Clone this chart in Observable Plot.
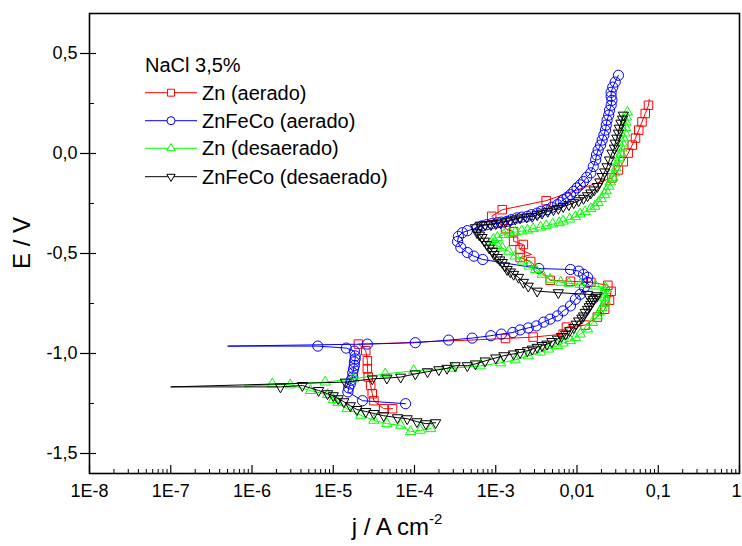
<!DOCTYPE html>
<html><head><meta charset="utf-8">
<script src="https://cdn.jsdelivr.net/npm/d3@7"></script>
<script src="https://cdn.jsdelivr.net/npm/@observablehq/plot@0.6"></script>
<style>
body{margin:0;background:#fff;}
#chart{position:relative;width:742px;height:546px;}
#chart svg{font-family:"Liberation Sans",Arial,sans-serif;}
</style></head><body><div id="chart"></div>
<script>
// ---- data: log10(i / A cm^-2) and E / V ----
const seriesNames = ["Zn (aerado)", "ZnFeCo (aerado)", "Zn (desaerado)", "ZnFeCo (desaerado)"];
const seriesColors = ["#ff0000", "#0000ff", "#00ff00", "#000000"];
const legendTitle = "NaCl 3,5%";

const znAerLogI = [-4.27,-4.38,-4.50,-4.52,-4.54,-4.57,-4.58,-4.58,-4.60,-4.69,
 -4.23,-3.80,-3.31,-2.88,-2.54,-2.17,-2.13,-1.90,-1.75,-1.66,
 -1.60,-1.58,-1.62,-1.83,-2.08,-2.33,-2.57,-2.70,-2.56,-2.70,
 -2.66,-2.78,-2.78,-2.88,-3.05,-2.92,-2.38,-1.57,-1.49,-1.43,
 -1.37,-1.32,-1.28,-1.24,-1.20,-1.16,-1.12,-1.11];
const znAerE = [-1.276,-1.276,-1.236,-1.201,-1.160,-1.117,-1.077,-1.036,-0.986,-0.953,
 -0.948,-0.940,-0.933,-0.925,-0.918,-0.903,-0.868,-0.858,-0.818,-0.779,
 -0.734,-0.689,-0.659,-0.644,-0.639,-0.634,-0.540,-0.520,-0.505,-0.480,
 -0.455,-0.439,-0.391,-0.376,-0.314,-0.281,-0.236,-0.122,-0.082,-0.041,
 0.002,0.042,0.077,0.117,0.158,0.200,0.241,0.271];
const znAerNoSymbol = [10, 11, 12, 28, 47];

const znfecoAerLogI = [-4.11,-4.64,-4.82,-4.81,-4.79,-4.78,-4.76,-4.76,-4.75,-4.74,
 -4.74,-4.73,-4.73,-4.74,-4.84,-5.19,-6.30,-4.58,
 -3.99,-3.58,-3.29,-3.06,-2.93,-2.79,-2.70,-2.60,-2.50,-2.41,
 -2.33,-2.24,-2.17,-2.08,-2.02,-1.96,-1.91,-1.87,-1.87,-1.92,
 -1.98,-2.08,-2.47,-3.16,-3.27,-3.35,-3.43,-3.47,-3.46,-3.41,
 -3.35,-3.23,-3.17,-3.11,-3.05,-2.98,-2.93,-2.86,-2.81,-2.74,
 -2.68,-2.61,-2.56,-2.49,-2.44,-2.37,-2.31,-2.24,-2.20,-2.17,
 -2.12,-2.08,-2.04,-2.00,-1.96,-1.92,-1.88,-1.83,-1.80,-1.77,
 -1.76,-1.74,-1.71,-1.69,-1.67,-1.65,-1.64,-1.63,-1.61,-1.60,
 -1.58,-1.57,-1.58,-1.58,-1.56,-1.53,-1.49];
const znfecoAerE = [-1.251,-1.236,-1.192,-1.172,-1.152,-1.134,-1.117,-1.097,-1.077,-1.060,
 -1.042,-1.027,-1.012,-0.988,-0.973,-0.963,-0.963,-0.953,
 -0.946,-0.933,-0.923,-0.911,-0.903,-0.895,-0.882,-0.872,-0.862,-0.843,
 -0.828,-0.812,-0.787,-0.762,-0.729,-0.704,-0.669,-0.644,-0.619,-0.604,
 -0.588,-0.580,-0.575,-0.530,-0.513,-0.495,-0.470,-0.440,-0.415,-0.396,
 -0.386,-0.372,-0.362,-0.356,-0.351,-0.346,-0.343,-0.339,-0.331,-0.322,
 -0.318,-0.314,-0.306,-0.298,-0.289,-0.281,-0.269,-0.256,-0.244,-0.231,
 -0.219,-0.206,-0.189,-0.172,-0.157,-0.140,-0.119,-0.097,-0.065,-0.032,
 -0.007,0.017,0.042,0.067,0.092,0.117,0.142,0.167,0.192,0.216,
 0.241,0.266,0.286,0.306,0.332,0.357,0.391];
const znfecoAerNoSymbol = [16];

const znDesLogI = [-3.80,-3.93,-4.05,-4.17,-4.34,-4.50,-4.66,-4.83,-4.94,-5.00,
 -5.07,-5.28,-5.53,-5.75,-6.10,-5.10,-4.75,-4.36,-4.01,-3.54,
 -3.19,-2.94,-2.76,-2.60,-2.45,-2.35,-2.24,-2.17,-2.08,-2.02,
 -1.96,-1.87,-1.81,-1.75,-1.72,-1.69,-1.66,-1.65,-1.66,-1.67,
 -1.66,-1.65,-1.77,-1.96,-2.10,-2.20,-2.33,-2.43,-2.51,-2.59,
 -2.67,-2.76,-2.84,-2.92,-2.98,-3.04,-3.03,-2.98,-2.90,-2.83,
 -2.76,-2.68,-2.61,-2.54,-2.45,-2.38,-2.30,-2.22,-2.17,-2.09,
 -2.02,-1.96,-1.90,-1.83,-1.78,-1.74,-1.70,-1.66,-1.64,-1.61,
 -1.59,-1.56,-1.54,-1.52,-1.50,-1.48,-1.46,-1.45,-1.44,-1.43,
 -1.41,-1.40,-1.40,-1.39,-1.38];
const znDesE = [-1.376,-1.384,-1.391,-1.359,-1.351,-1.334,-1.309,-1.276,-1.246,-1.231,
 -1.206,-1.185,-1.157,-1.152,-1.164,-1.143,-1.127,-1.102,-1.086,-1.074,
 -1.062,-1.047,-1.032,-1.012,-0.993,-0.978,-0.961,-0.948,-0.936,-0.920,
 -0.903,-0.878,-0.845,-0.812,-0.791,-0.770,-0.749,-0.737,-0.719,-0.704,
 -0.687,-0.671,-0.663,-0.654,-0.649,-0.644,-0.629,-0.604,-0.580,-0.563,
 -0.538,-0.513,-0.489,-0.472,-0.460,-0.455,-0.430,-0.420,-0.405,-0.398,
 -0.393,-0.388,-0.383,-0.376,-0.368,-0.361,-0.353,-0.346,-0.338,-0.328,
 -0.316,-0.303,-0.291,-0.276,-0.264,-0.246,-0.226,-0.206,-0.187,-0.164,
 -0.142,-0.119,-0.097,-0.072,-0.047,-0.022,0.002,0.027,0.052,0.077,
 0.102,0.129,0.157,0.182,0.206];
const znDesNoSymbol = [14];

const znfecoDesLogI = [-3.74,-3.86,-3.97,-4.09,-4.21,-4.38,-4.50,-4.60,-4.71,-4.79,
 -4.87,-4.94,-5.00,-5.07,-5.18,-5.38,-5.65,-7.00,
 -4.85,-4.52,-4.34,-4.17,-3.99,-3.84,-3.70,-3.60,-3.50,-3.35,
 -3.25,-3.13,-3.00,-2.90,-2.78,-2.70,-2.61,-2.55,-2.49,-2.43,
 -2.37,-2.31,-2.24,-2.19,-2.14,-2.09,-2.04,-2.01,-1.98,-1.94,
 -1.92,-1.90,-1.87,-1.85,-1.83,-1.81,-1.80,-1.77,-1.75,
 -1.87,-2.23,-2.49,-2.60,-2.66,-2.72,-2.78,-2.82,-2.86,-2.89,
 -2.92,-2.95,-2.98,-3.02,-3.04,-3.08,-3.11,-3.14,-3.17,-3.20,
 -3.23,-3.25,
 -3.19,-3.13,-3.06,-3.00,-2.94,-2.88,-2.82,-2.76,-2.70,-2.62,
 -2.55,-2.49,-2.43,-2.36,-2.29,-2.23,-2.17,-2.10,-2.04,-1.98,
 -1.92,-1.87,-1.83,-1.79,-1.75,-1.72,-1.69,-1.66,-1.63,-1.60,
 -1.57,-1.54,-1.53,-1.51,-1.49,-1.48,-1.46,-1.44,-1.43];
const znfecoDesE = [-1.346,-1.351,-1.341,-1.326,-1.321,-1.311,-1.300,-1.290,-1.280,-1.261,
 -1.241,-1.226,-1.211,-1.201,-1.185,-1.160,-1.167,-1.167,
 -1.143,-1.127,-1.123,-1.118,-1.102,-1.091,-1.081,-1.074,-1.061,-1.061,
 -1.052,-1.037,-1.022,-1.011,-1.002,-0.995,-0.986,-0.978,-0.969,-0.960,
 -0.953,-0.940,-0.928,-0.915,-0.903,-0.886,-0.870,-0.853,-0.837,-0.823,
 -0.812,-0.794,-0.779,-0.766,-0.754,-0.741,-0.729,-0.719,-0.711,
 -0.704,-0.696,-0.688,-0.663,-0.644,-0.619,-0.604,-0.592,-0.580,-0.562,
 -0.545,-0.532,-0.520,-0.505,-0.489,-0.473,-0.455,-0.438,-0.420,-0.408,
 -0.396,-0.371,
 -0.358,-0.356,-0.356,-0.351,-0.347,-0.341,-0.336,-0.328,-0.322,-0.318,
 -0.314,-0.306,-0.298,-0.289,-0.281,-0.274,-0.265,-0.256,-0.246,-0.236,
 -0.224,-0.211,-0.197,-0.182,-0.165,-0.142,-0.115,-0.092,-0.066,-0.032,
 0.002,0.027,0.052,0.077,0.102,0.127,0.152,0.172,0.192];
const znfecoDesNoSymbol = [17];

// ---- axis ticks ----
const xMajorTicks = [1e-8,1e-7,1e-6,1e-5,1e-4,1e-3,1e-2,1e-1,1];
const xTickLabels = ["1E-8","1E-7","1E-6","1E-5","1E-4","1E-3","0,01","0,1","1"];
const yMajorTicks = [-1.5,-1,-0.5,0,0.5];
const yTickLabels = ["-1,5","-1,0","-0,5","0,0","0,5"];
const yMinorTicks = [-1.25,-0.75,-0.25,0.25];
const xMinorMultipliers = [2,3,4,5,6,7,8,9];
const xMinorTicks = xMajorTicks.slice(0,-1).flatMap(d => xMinorMultipliers.map(k => k*d));

// ---- build ----
function makeSeries(logI, E, noSym) {
  const n = Math.min(logI.length, E.length);
  const skip = new Set(noSym);
  const out = [];
  for (let k = 0; k < n; k++) out.push({i: Math.pow(10, logI[k]), E: E[k], sym: !skip.has(k)});
  return out;
}
const series = [
  {pts: makeSeries(znAerLogI, znAerE, znAerNoSymbol), symbol: "square", rotate: 0, r: 4.8},
  {pts: makeSeries(znfecoAerLogI, znfecoAerE, znfecoAerNoSymbol), symbol: "circle", rotate: 0, r: 5.1},
  {pts: makeSeries(znDesLogI, znDesE, znDesNoSymbol), symbol: "triangle", rotate: 0, r: 3.8},
  {pts: makeSeries(znfecoDesLogI, znfecoDesE, znfecoDesNoSymbol), symbol: "triangle", rotate: 180, r: 3.8}
];
series.forEach((s, k) => { s.name = seriesNames[k]; s.color = seriesColors[k]; });

const W = 742, H = 546, mL = 89, mR = 3, mT = 13, mB = 73;
const plotW = W - mL - mR, plotH = H - mT - mB;
const xLabelOf = new Map(xMajorTicks.map((d, k) => [d, xTickLabels[k]]));
const yLabelOf = new Map(yMajorTicks.map((d, k) => [d, yTickLabels[k]]));
const lastX = xMajorTicks[xMajorTicks.length - 1];

const marks = [
  Plot.ruleX(xMinorTicks, {x: d => d, insetTop: plotH - 4, stroke: "black", strokeWidth: 1}),
  Plot.ruleX(xMajorTicks, {x: d => d, insetTop: plotH - 8, stroke: "black", strokeWidth: 1.2}),
  Plot.ruleY(yMajorTicks, {y: d => d, insetLeft: -9, insetRight: plotW - 7, stroke: "black", strokeWidth: 1.2}),
  Plot.ruleY(yMinorTicks, {y: d => d, insetRight: plotW - 5, stroke: "black", strokeWidth: 1}),
  Plot.axisX({ticks: xMajorTicks.slice(0, -1), tickFormat: d => xLabelOf.get(d), tickSize: 0, tickPadding: 11, fontSize: 18, label: null}),
  Plot.axisX({ticks: [lastX], tickFormat: d => xLabelOf.get(d), tickSize: 0, tickPadding: 11, fontSize: 18, label: null, dx: -3}),
  Plot.axisY({ticks: yMajorTicks, tickFormat: d => yLabelOf.get(d), tickSize: 0, tickPadding: 12, fontSize: 18, label: null})
];
for (const s of series) {
  marks.push(Plot.line(s.pts, {x: "i", y: "E", stroke: s.color, strokeWidth: 1}));
  marks.push(Plot.dot(s.pts.filter(p => p.sym), {x: "i", y: "E", symbol: s.symbol, rotate: s.rotate, r: s.r,
    stroke: s.color, fill: "none", strokeWidth: 1}));
}
marks.push(Plot.frame({stroke: "black", strokeWidth: 1.6}));

const svg = Plot.plot({
  width: W, height: H, marginLeft: mL, marginRight: mR, marginTop: mT, marginBottom: mB,
  x: {type: "log", domain: [1e-8, 1]},
  y: {domain: [-1.6, 0.7]},
  style: {fontFamily: '"Liberation Sans", Arial, sans-serif', fontSize: "18px", color: "black", background: "white", overflow: "visible"},
  marks
});
document.getElementById("chart").appendChild(svg);

// ---- axis titles and legend ----
const g = d3.select(svg).append("g").attr("font-family", '"Liberation Sans", Arial, sans-serif')
  .attr("fill", "black").attr("text-anchor", "start");
g.append("text").attr("transform", "translate(30,243) rotate(-90)").attr("text-anchor", "middle")
  .attr("font-size", 24).text("E / V");
const xt = g.append("text").attr("x", 397).attr("y", 535).attr("text-anchor", "middle").attr("font-size", 24);
xt.append("tspan").text("j / A cm");
xt.append("tspan").attr("font-size", 15).attr("dy", -11).text("-2");

g.append("text").attr("x", 145).attr("y", 72).attr("font-size", 20).attr("text-anchor", "start").text(legendTitle);
const rowY = [92.7, 120.7, 148.3, 176.7];
const legendSym = [d3.symbolSquare, d3.symbolCircle, d3.symbolTriangle, d3.symbolTriangle];
const legendSize = [48, 50, 30, 30];
series.forEach((s, k) => {
  const y = rowY[k];
  g.append("line").attr("x1", 145).attr("x2", 197).attr("y1", y).attr("y2", y).attr("stroke", s.color).attr("stroke-width", 1);
  g.append("path").attr("d", d3.symbol(legendSym[k], legendSize[k])())
    .attr("transform", `translate(171,${y}) rotate(${s.rotate})`)
    .attr("fill", "white").attr("stroke", s.color).attr("stroke-width", 1);
  g.append("text").attr("x", 202).attr("y", y + 7).attr("font-size", 20).attr("text-anchor", "start").text(s.name);
});
</script></body></html>
